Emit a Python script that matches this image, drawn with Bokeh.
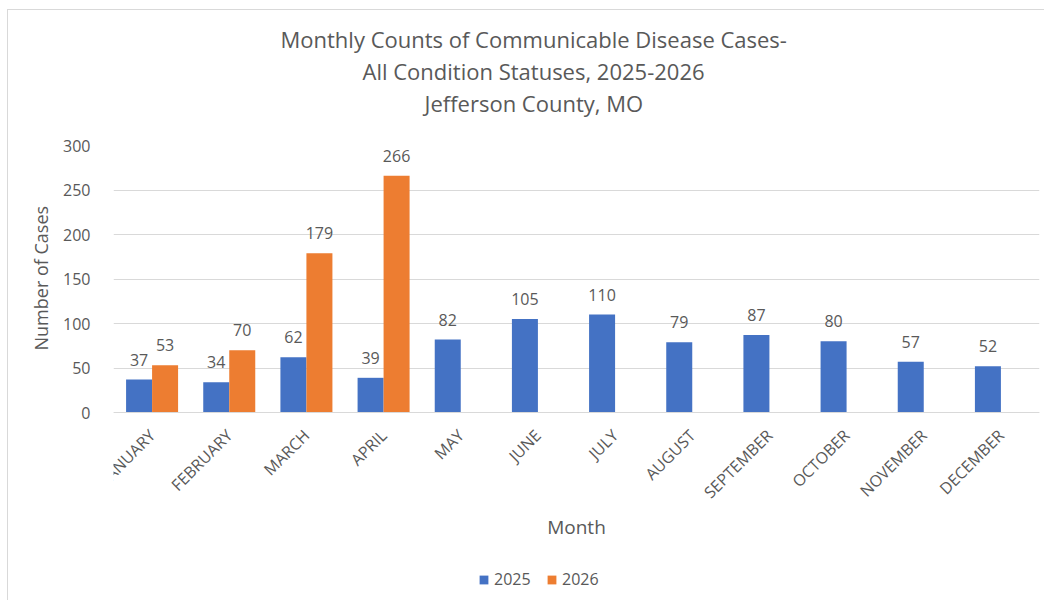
import math
from bokeh.plotting import figure
from bokeh.models import (ColumnDataSource, FactorRange, Range1d, FixedTicker, Title,
                          Legend, LegendItem)
from bokeh.transform import dodge
from bokeh.core.properties import value
from bokeh.embed import file_html
from bokeh.resources import INLINE

months = ["JANUARY", "FEBRUARY", "MARCH", "APRIL", "MAY", "JUNE", "JULY",
          "AUGUST", "SEPTEMBER", "OCTOBER", "NOVEMBER", "DECEMBER"]
cases_2025 = [37, 34, 62, 39, 82, 105, 110, 79, 87, 80, 57, 52]
months_2026 = ["JANUARY", "FEBRUARY", "MARCH", "APRIL"]
cases_2026 = [53, 70, 179, 266]
y_ticks = [0, 50, 100, 150, 200, 250, 300]
title_lines = ["Monthly Counts of Communicable Disease Cases-",
               "All Condition Statuses, 2025-2026",
               "Jefferson County, MO"]
title_offsets = [167, 249, 311]

BLUE = "#4472C4"
ORANGE = "#ED7D31"
TXT = "#595959"
GRID = "#D9D9D9"
FONT = "Open Sans"

src25 = ColumnDataSource(dict(m=months, v=cases_2025, t=[str(v) for v in cases_2025]))
src26 = ColumnDataSource(dict(m=months_2026, v=cases_2026, t=[str(v) for v in cases_2026]))

# frame extends below the value axis so the category axis, its title and the
# legend are all drawn inside it; y = 0 sits where the reference's baseline is
p = figure(frame_width=926, frame_height=455, output_backend="svg", toolbar_location=None,
           x_range=FactorRange(factors=months, range_padding=0),
           y_range=Range1d(-211.2, 300), title=None)
p.min_border_left = 105
p.min_border_right = 5
p.min_border_top = 135
p.min_border_bottom = 0
p.outline_line_color = None
p.background_fill_color = "white"
p.border_fill_color = "white"
p.styles = {"border-top": "1px solid #D9D9D9", "border-left": "1px solid #D9D9D9",
            "margin-left": "7px", "margin-top": "9px"}

off = 0.1685
w = 0.337
r25 = p.vbar(x=dodge("m", -off, range=p.x_range), top="v", bottom=0, width=w,
             source=src25, fill_color=BLUE, line_color=None)
r26 = p.vbar(x=dodge("m", off, range=p.x_range), top="v", bottom=0, width=w,
             source=src26, fill_color=ORANGE, line_color=None)

for src, o in ((src25, -off), (src26, off)):
    p.text(x=dodge("m", o, range=p.x_range), y="v", text="t", source=src,
           text_align="center", text_baseline="middle", y_offset=-20,
           text_font=value(FONT), text_font_size="16px", text_color=TXT)

# value axis
p.yaxis.ticker = FixedTicker(ticks=y_ticks)
p.yaxis.axis_line_color = None
p.yaxis.major_tick_line_color = None
p.yaxis.minor_tick_line_color = None
p.yaxis.major_label_standoff = 17
p.yaxis.major_label_text_font = FONT
p.yaxis.major_label_text_font_size = "16px"
p.yaxis.major_label_text_color = TXT
p.yaxis.axis_label = None

# value-axis title placed beside the 0-300 part of the frame
p.add_layout(Title(text="Number of Cases", align="left", offset=250, standoff=16,
                   text_font=FONT, text_font_size="18px", text_font_style="normal",
                   text_color=TXT), "left")

# category axis drawn at y = 0
p.xaxis.fixed_location = 0
p.xaxis.axis_line_color = GRID
p.xaxis.major_tick_line_color = None
p.xaxis.minor_tick_line_color = None
p.xaxis.major_label_orientation = math.pi / 4
p.xaxis.major_label_standoff = 14
p.xaxis.major_label_text_font = FONT
p.xaxis.major_label_text_font_size = "16px"
p.xaxis.major_label_text_color = TXT
p.xaxis.axis_label = "Month"
p.xaxis.axis_label_text_font = FONT
p.xaxis.axis_label_text_font_size = "19px"
p.xaxis.axis_label_text_font_style = "normal"
p.xaxis.axis_label_text_color = TXT
p.xaxis.axis_label_standoff = 0

p.xgrid.grid_line_color = None
p.ygrid.grid_line_color = GRID
p.ygrid.grid_line_width = 1

# spacer between title block and plot area
p.add_layout(Title(text=" ", standoff=12, text_font=FONT, text_font_size="10px"), "above")
# title lines (added bottom-most first)
for line, o in reversed(list(zip(title_lines, title_offsets))):
    p.add_layout(Title(text=line, align="left", offset=o, standoff=0,
                       text_font=FONT, text_font_size="22px",
                       text_font_style="normal", text_color=TXT), "above")

legend = Legend(items=[LegendItem(label="2025", renderers=[r25]),
                       LegendItem(label="2026", renderers=[r26])],
                location=(365, 10), orientation="horizontal",
                padding=0, margin=0, spacing=15, label_standoff=5,
                glyph_width=11, glyph_height=11, label_width=37,
                label_text_font=FONT, label_text_font_size="16px",
                label_text_color=TXT, border_line_color=None,
                background_fill_alpha=0)
p.add_layout(legend, "center")

open("out.html", "w").write(file_html(p, INLINE))
